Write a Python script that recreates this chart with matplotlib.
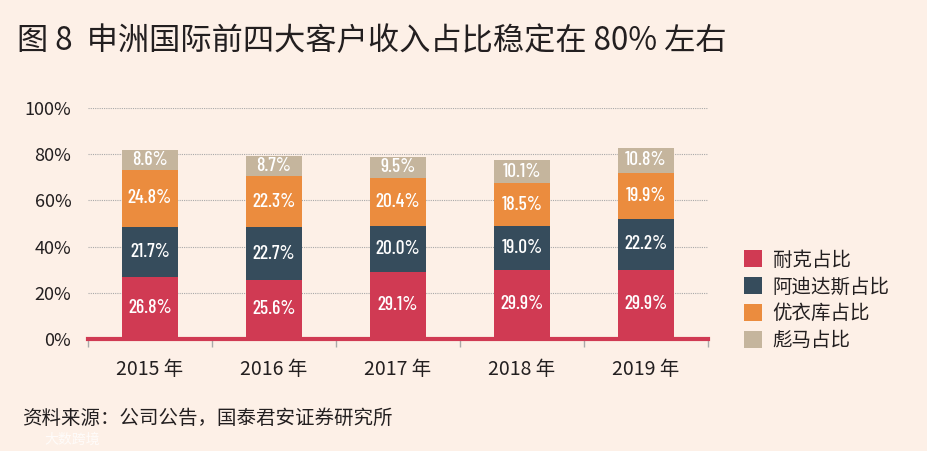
import matplotlib.pyplot as plt
import numpy as np
from matplotlib.patches import Patch
from matplotlib.ticker import FuncFormatter

plt.rcParams['font.family'] = ['Noto Sans CJK SC', 'DejaVu Sans']

# data (% of revenue)
years = ['2015 年', '2016 年', '2017 年', '2018 年', '2019 年']
nike = [26.8, 25.6, 29.1, 29.9, 29.9]
adidas = [21.7, 22.7, 20.0, 19.0, 22.2]
uniqlo = [24.8, 22.3, 20.4, 18.5, 19.9]
puma = [8.6, 8.7, 9.5, 10.1, 10.8]
series_names = ['耐克占比', '阿迪达斯占比', '优衣库占比', '彪马占比']
yticks = [0, 20, 40, 60, 80, 100]

colors = ['#D03A53', '#364C5C', '#EB8C3E', '#C5B59D']
bg = '#FDF0E7'
txt = '#231F20'
narrow = ['Barlow Condensed', 'Roboto Condensed', 'Asap Condensed',
          'Liberation Sans Narrow', 'DejaVu Sans']

fig = plt.figure(figsize=(9.27, 4.51), dpi=100, facecolor=bg)
ax = fig.add_axes([88/927, 1-339/451, 620/927, 231/451])
ax.set_facecolor(bg)

x = np.arange(len(years))
bottom = np.zeros(len(years))
for vals, c in zip([nike, adidas, uniqlo, puma], colors):
    vals = np.array(vals)
    ax.bar(x, vals, 0.445, bottom=bottom, color=c, zorder=3)
    for xi, b, v in zip(x, bottom, vals):
        ax.text(xi, b + v/2, '%.1f%%' % v, ha='center', va='center',
                color='white', fontsize=14, family=narrow, weight='medium',
                zorder=4)
    bottom += vals

ax.set_xlim(-0.5, len(years)-0.5)
ax.set_ylim(0, 100)
ax.set_yticks(yticks)
ax.yaxis.set_major_formatter(FuncFormatter(lambda v, p: '%d%%' % v))
ax.grid(axis='y', color='#A9A9A9', ls=(0, (1, 1)), lw=0.8, zorder=0)
for s in ['top', 'right', 'left']:
    ax.spines[s].set_visible(False)
ax.spines['bottom'].set_color(colors[0])
ax.spines['bottom'].set_linewidth(3)
ax.spines['bottom'].set_zorder(5)

ax.set_xticks(np.arange(-0.5, len(years)))
ax.set_xticklabels([])
ax.tick_params(axis='x', length=6, color='#A9A9A9', width=1)
ax.tick_params(axis='y', length=0, pad=12, labelsize=13, labelcolor=txt)
for xi, lab in zip(x, years):
    ax.text(xi, -8.5, lab, ha='center', va='top', fontsize=14, color=txt)

handles = [Patch(facecolor=c, label=n) for c, n in zip(colors, series_names)]
fig.legend(handles=handles, loc='upper left', bbox_to_anchor=(726/927, 1-232/451),
           frameon=False, fontsize=14, handlelength=0.95, handleheight=0.95,
           handletextpad=0.55, labelspacing=0.3, labelcolor=txt)

fig.text(17/927, 1-41/451, '图 8  申洲国际前四大客户收入占比稳定在 80% 左右',
         fontsize=22.5, color=txt, va='center', ha='left', weight='medium')
fig.text(22/927, 1-418/451, '资料来源：公司公告，国泰君安证券研究所',
         fontsize=14, color=txt, va='center', ha='left')
fig.text(44/927, 1-440/451, '大数跨境', fontsize=10, color='white', alpha=0.8,
         va='center', ha='left')

fig.savefig('out.png', dpi=100, facecolor=bg)
